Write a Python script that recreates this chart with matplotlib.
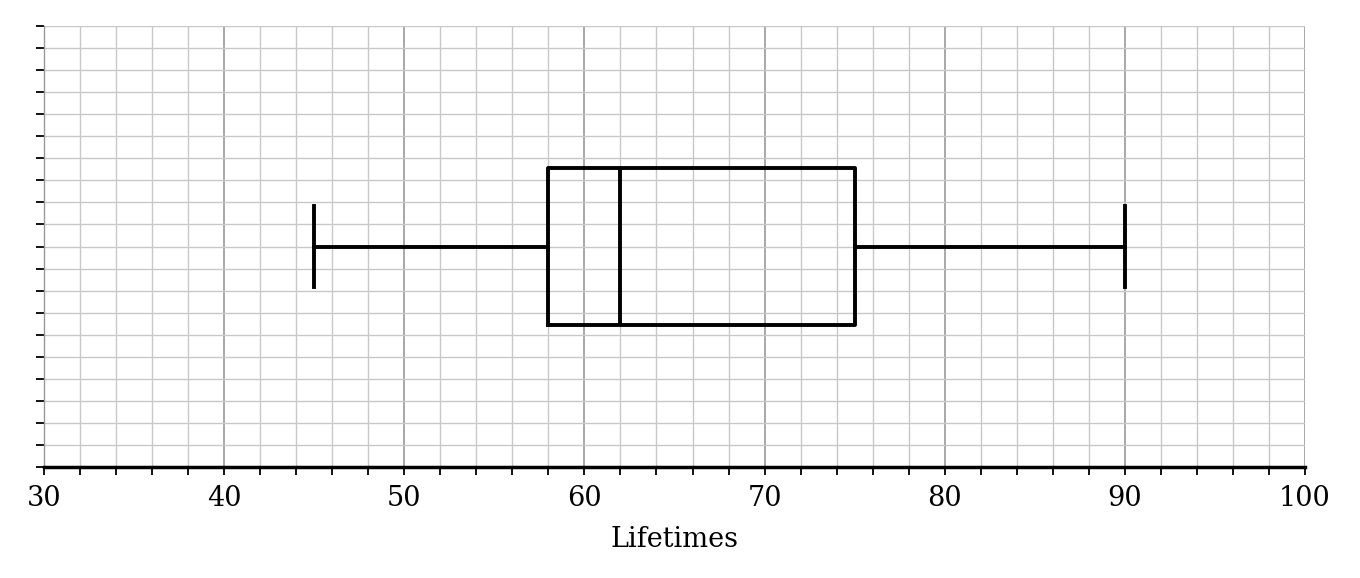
import numpy as np
import matplotlib.pyplot as plt
from matplotlib.ticker import MultipleLocator

# box plot summary (five numbers)
whisker_low = 45
q1 = 58
median = 62
q3 = 75
whisker_high = 90
xlabel = "Lifetimes"

stats = [dict(whislo=whisker_low, q1=q1, med=median, q3=q3, whishi=whisker_high, fliers=[])]

fig = plt.figure(figsize=(13.6, 5.78), dpi=100)
ax = fig.add_axes([44/1360, 1 - 467/578, (1305-44)/1360, (467-26)/578])

lw = 2.8
ax.bxp(stats, positions=[10], widths=7.1, vert=False, showfliers=False,
       capwidths=3.7,
       boxprops=dict(color='black', linewidth=lw),
       medianprops=dict(color='black', linewidth=lw),
       whiskerprops=dict(color='black', linewidth=lw),
       capprops=dict(color='black', linewidth=lw), zorder=3)

ax.set_xlim(30, 100)
ax.set_ylim(0, 20)
ax.xaxis.set_major_locator(MultipleLocator(10))
ax.xaxis.set_minor_locator(MultipleLocator(2))
ax.yaxis.set_major_locator(MultipleLocator(1))
ax.set_yticklabels([])

ax.grid(True, which='minor', axis='x', color='#c8c8c8', linewidth=1.0)
ax.grid(True, which='major', axis='x', color='#999999', linewidth=1.2)
ax.grid(True, which='major', axis='y', color='#c8c8c8', linewidth=1.0)
ax.set_axisbelow(True)

for s in ['top', 'right']:
    ax.spines[s].set_visible(False)
ax.spines['left'].set_color('#999999')
ax.spines['left'].set_linewidth(1.0)
ax.spines['bottom'].set_color('black')
ax.spines['bottom'].set_linewidth(2.5)

ax.tick_params(axis='x', which='both', length=6, width=1.3, direction='out', color='black',
               labelsize=19.5, pad=7)
ax.tick_params(axis='y', which='both', length=6, width=1.3, direction='out', color='black')
for lab in ax.get_xticklabels():
    lab.set_family('DejaVu Serif')

ax.set_xlabel(xlabel, fontsize=19.5, family='DejaVu Serif', labelpad=10)

fig.savefig('out.png', dpi=100)
